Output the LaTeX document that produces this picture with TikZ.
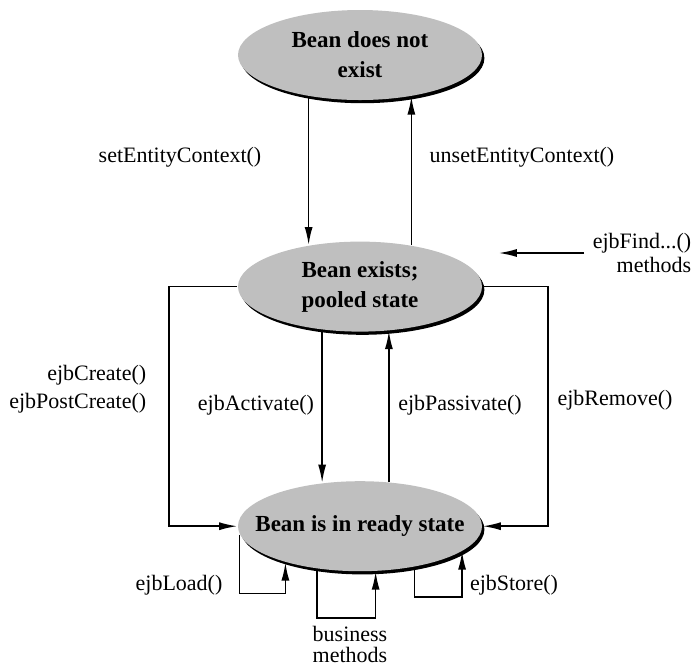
\documentclass[tikz,border=0pt]{standalone}
\usepackage{fontspec}
\setmainfont{Liberation Serif}
\usepackage{tikz}
\usetikzlibrary{arrows.meta,positioning,shapes.geometric,shadows}

\begin{document}
\begin{tikzpicture}[x=0.5pt,y=-0.5pt,font=\fontsize{11}{12}\selectfont,>={Latex[length=9pt,width=4pt]},line width=0.8pt]
  \tikzstyle{state}=[ellipse,fill=black!25,minimum width=122pt,minimum height=45pt,inner xsep=-12pt,inner ysep=0pt,align=center,font=\fontsize{11.5}{15}\selectfont\bfseries,drop shadow={shadow xshift=1.2pt,shadow yshift=-1.6pt,fill=black,opacity=1}]
  \tikzstyle{lbl}=[inner sep=1pt,align=center]
  \useasboundingbox (0,0) rectangle (693,666);
  \node[state] (none) at (360,55) {Bean does not\\exist};
  \node[state,below=70pt of none] (pool) {Bean exists;\\pooled state};
  \node[state,below=74pt of pool] (ready) {Bean is in ready state};
  \node[lbl] (setctx) at (180,157) {setEntityContext()};
  \node[lbl] (unsetctx) at (522,157) {unsetEntityContext()};
  \node[lbl,anchor=east,align=right] (find) at (694,253) {ejbFind...()\\methods};
  \node[lbl,anchor=east,align=right,font=\fontsize{11}{14}\selectfont] (create) at (149,389) {ejbCreate()\\ejbPostCreate()};
  \node[lbl] (act) at (256,405) {ejbActivate()};
  \node[lbl] (pas) at (460,405) {ejbPassivate()};
  \node[lbl] (rem) at (615,400) {ejbRemove()};
  \node[lbl] (load) at (179,585) {ejbLoad()};
  \node[lbl] (store) at (514,585) {ejbStore()};
  \node[lbl,font=\fontsize{11}{10.5}\selectfont] (biz) at (350,644) {business\\methods};
  \draw[->] (none.-141) -- (pool.141);
  \draw[->] (pool.39) -- (none.-39);
  \draw[->,shorten >=8pt] ([xshift=-3pt]find.west) -- (find.west -| pool.east);
  \draw[->] (pool.west) -- ++(-68,0) |- (ready.west);
  \draw[->] (pool.east) -- ++(65,0) |- (ready.east);
  \draw[->] (pool.-131) -- (ready.131);
  \draw[->] (ready.57) -- (pool.-57);
  \draw[->] (ready.-176) -- ++(0,59) -| (ready.-154);
  \draw[->] (ready.-135) -- ++(0,49) -| (ready.-71);
  \draw[->] (ready.-37) -- ++(0,30) -| (ready.-14);
\end{tikzpicture}
\end{document}
